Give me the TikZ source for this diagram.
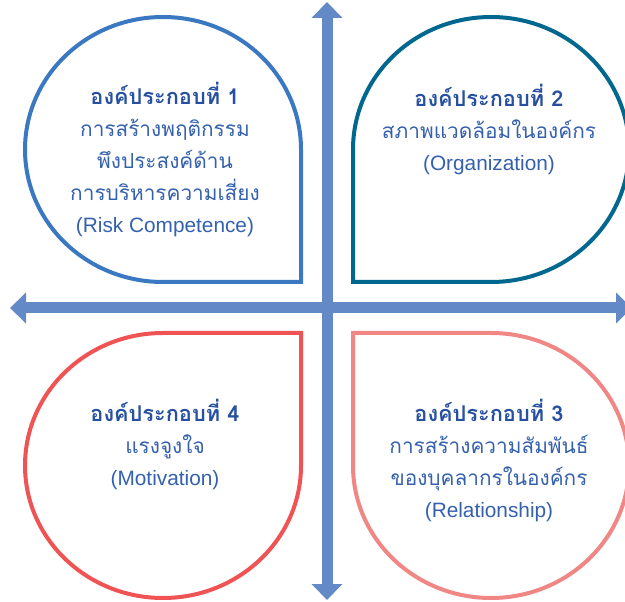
\documentclass[tikz,border=0pt]{standalone}
\usepackage{fontspec}
\setmainfont{Liberation Sans}
\newfontfamily\thaifont[Script=Thai]{Loma}
\usetikzlibrary{arrows.meta}

\definecolor{petalblue}{RGB}{58,120,194}
\definecolor{petalteal}{RGB}{0,104,143}
\definecolor{petalred}{RGB}{239,83,84}
\definecolor{petalpink}{RGB}{240,135,132}
\definecolor{axisblue}{RGB}{99,137,198}
\definecolor{headblue}{RGB}{40,80,160}
\definecolor{bodyblue}{RGB}{52,96,174}

\tikzset{every picture/.style={line width=0.75pt}}
\tikzset{
  petal/.style={line width=3pt},
  axis/.style={draw=axisblue, line width=8.25pt, {Triangle[width=22.5pt,length=12pt]}-{Triangle[width=22.5pt,length=12pt]}},
  petaltext/.style={align=center, text=bodyblue, inner sep=0.75pt, font=\fontsize{15.6}{24}\selectfont}
}
\newcommand{\petalhead}[1]{{\fontsize{16.3}{24}\selectfont\thaifont\bfseries\color{headblue}#1}}

\begin{document}
\begin{tikzpicture}[x=0.75pt,y=0.75pt,yscale=-1,xscale=1]
\useasboundingbox (0,0) rectangle (625,602);

%Shape: Petal [id:top left]
\draw [petal, draw=petalblue] (301,149.5) .. controls (301,76.3) and (239.2,17) .. (163,17) .. controls (86.8,17) and (25,76.3) .. (25,149.5) .. controls (25,222.7) and (86.8,282) .. (163,282) -- (301,282) -- cycle ;
%Shape: Petal [id:top right]
\draw [petal, draw=petalteal] (353,149.5) .. controls (353,76.3) and (414.8,17) .. (491,17) .. controls (567.2,17) and (629,76.3) .. (629,149.5) .. controls (629,222.7) and (567.2,282) .. (491,282) -- (353,282) -- cycle ;
%Shape: Petal [id:bottom left]
\draw [petal, draw=petalred] (301,333) -- (163,333) .. controls (86.8,333) and (25,392.3) .. (25,465.5) .. controls (25,538.7) and (86.8,598) .. (163,598) .. controls (239.2,598) and (301,538.7) .. (301,465.5) -- cycle ;
%Shape: Petal [id:bottom right]
\draw [petal, draw=petalpink] (353,333) -- (491,333) .. controls (567.2,333) and (629,392.3) .. (629,465.5) .. controls (629,538.7) and (567.2,598) .. (491,598) .. controls (414.8,598) and (353,538.7) .. (353,465.5) -- cycle ;

%Axes
\coordinate (north) at (327,2);
\coordinate (south) at (327,600);
\coordinate (west) at (10,308);
\coordinate (east) at (632,308);
\draw [axis] (north) -- (south) ;
\draw [axis] (west) -- (east) ;

% Text Node
\draw (165,159) node (comp1) [petaltext] {\petalhead{องค์ประกอบที่ 1}\\ {\thaifont การสร้างพฤติกรรม}\\ {\thaifont พึงประสงค์ด้าน}\\ {\thaifont การบริหารความเสี่ยง}\\ (Risk Competence)};
% Text Node
\draw (489,129) node (comp2) [petaltext] {\petalhead{องค์ประกอบที่ 2}\\ {\thaifont สภาพแวดล้อมในองค์กร}\\ (Organization)};
% Text Node
\draw (489,460) node (comp3) [petaltext] {\petalhead{องค์ประกอบที่ 3}\\ {\thaifont การสร้างความสัมพันธ์}\\ {\thaifont ของบุคลากรในองค์กร}\\ (Relationship)};
% Text Node
\draw (165,444) node (comp4) [petaltext] {\petalhead{องค์ประกอบที่ 4}\\ {\thaifont แรงจูงใจ}\\ (Motivation)};

\end{tikzpicture}
\end{document}
